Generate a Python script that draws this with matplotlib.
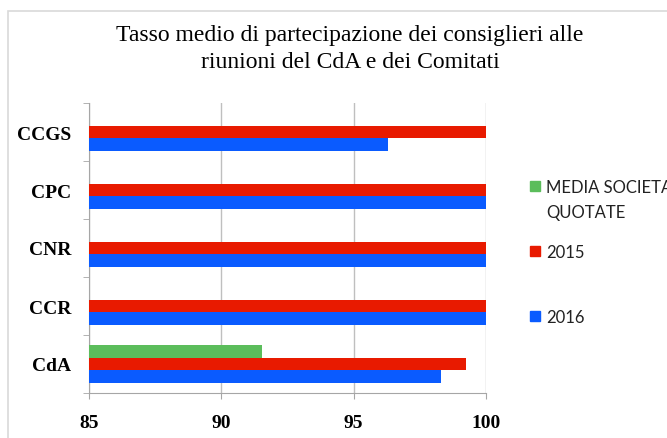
import matplotlib.pyplot as plt
import numpy as np
from matplotlib.patches import Rectangle

# data (bottom to top as drawn)
categories = ["CdA", "CCR", "CNR", "CPC", "CCGS"]
media_quotate = [91.55, np.nan, np.nan, np.nan, np.nan]
vals_2015 = [99.25, 100, 100, 100, 100]
vals_2016 = [98.3, 100, 100, 100, 96.3]
series_labels = ["MEDIA SOCIETA'\nQUOTATE", "2015", "2016"]
series_colors = ["#5BBD5B", "#E81A00", "#0A5BFF"]
xticks = [85, 90, 95, 100]

title = "Tasso medio di partecipazione dei consiglieri alle\nriunioni del CdA e dei Comitati"

W, H = 667, 439
fig = plt.figure(figsize=(W / 100, H / 100), dpi=100)

# chart frame
fig.patches.append(Rectangle((8 / W, -0.1), 1.2, 427 / H + 0.1, transform=fig.transFigure,
                             fill=False, edgecolor="#D9D9D9", linewidth=1.2))

ax = fig.add_axes([89 / W, 45 / H, 397 / W, 290 / H])

y = np.arange(len(categories))
h = 0.215
all_series = [media_quotate, vals_2015, vals_2016]
offsets = [h, 0, -h]
for vals, off, col in zip(all_series, offsets, series_colors):
    vals = np.array(vals, dtype=float)
    m = ~np.isnan(vals)
    ax.barh(y[m] + off, vals[m], height=h, color=col, zorder=3)

ax.set_xlim(xticks[0], xticks[-1])
ax.set_ylim(-0.5, len(categories) - 0.5)
ax.set_xticks(xticks)
ax.set_yticks(y)
ax.set_yticklabels(categories)
ax.set_yticks(np.arange(-0.5, len(categories), 1), minor=True)
ax.tick_params(axis="y", which="major", length=0, pad=13)
ax.tick_params(axis="y", which="minor", length=4, color="#A6A6A6")
ax.tick_params(axis="x", length=4, color="#A6A6A6", pad=11)
for lab in ax.get_yticklabels():
    lab.set_fontfamily("Liberation Serif")
    lab.set_fontweight("bold")
    lab.set_fontsize(14)
for lab in ax.get_xticklabels():
    lab.set_fontfamily("Liberation Serif")
    lab.set_fontweight("bold")
    lab.set_fontsize(14)

ax.grid(axis="x", color="#BFBFBF", linewidth=1, zorder=0)
for s in ["top", "right"]:
    ax.spines[s].set_visible(False)
for s in ["left", "bottom"]:
    ax.spines[s].set_color("#A6A6A6")

# title, one baseline per line
for i, line in enumerate(title.split("\n")):
    fig.text(350 / W, 1 - (41 + 27 * i) / H, line, ha="center", va="baseline",
             fontsize=17, family="Liberation Serif", color="black")

# legend
leg_y = [187, 252, 317]
for lab, col, py in zip(series_labels, series_colors, leg_y):
    fig.patches.append(Rectangle((530 / W, 1 - (py + 5) / H), 10 / W, 10 / H,
                                 transform=fig.transFigure, color=col))
    for j, line in enumerate(lab.split("\n")):
        fig.text(546 / W, 1 - (py + 6 + 25 * j) / H, line, ha="left", va="baseline",
                 fontsize=12, family="Lato", color="#222222")

fig.savefig("out.png", dpi=100)
